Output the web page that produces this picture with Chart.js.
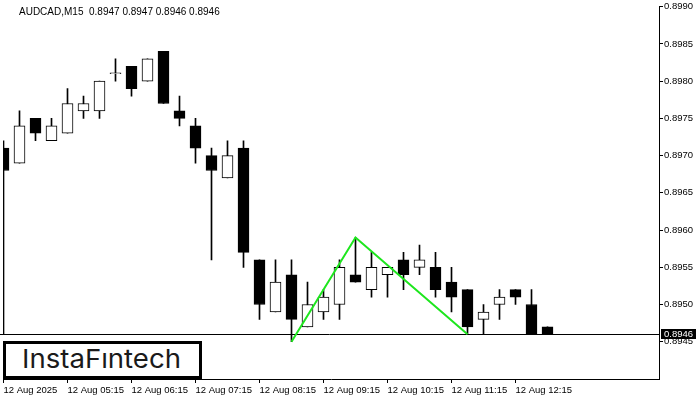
<!DOCTYPE html>
<html>
<head>
<meta charset="utf-8">
<script src="https://cdn.jsdelivr.net/npm/chart.js@4.4.1/dist/chart.umd.min.js"></script>
<style>
  html, body { margin: 0; padding: 0; background: #fff; }
  #wrap { position: relative; width: 700px; height: 400px; overflow: hidden; }
  canvas { display: block; }
  #logo { position: absolute; left: 3px; top: 341px; width: 199px; height: 38px; box-sizing: border-box;
          border: 3px solid #000; background: #fff; overflow: hidden; }
  #logoText { position: absolute; left: 16px; top: 2px; font-family: Inter, "Noto Sans", sans-serif; font-weight: 400;
              font-size: 26px; line-height: 26px; color: #1a1a1a; white-space: pre; transform-origin: 0 0; }
</style>
</head>
<body>
<div id="wrap">
  <canvas id="c" width="700" height="400"></canvas>
  <div id="logo"><span id="logoText">InstaFıntech</span></div>
</div>
<script>
// ---------------- data ----------------
const symbol = 'AUDCAD';
const timeframe = 'M15';
const opens  = [0.8971,0.8969,0.8975,0.8972,0.8973,0.8976,0.8976,0.8981,0.8982,0.8980,0.8984,0.8976,0.8974,0.8970,0.8967,0.8971,0.8956,0.8949,0.8954,0.8947,0.8949,0.8950,0.8954,0.8952,0.8954,0.8956,0.8955,0.8955,0.8953,0.8952,0.8948,0.8950,0.8952,0.8950,0.8947];
const highs  = [0.8972,0.8976,0.8975,0.8975,0.8979,0.8978,0.8980,0.8983,0.8982,0.8983,0.8984,0.8978,0.8975,0.8971,0.8972,0.8972,0.8956,0.8956,0.8956,0.8953,0.8952,0.8956,0.8959,0.8957,0.8955,0.8957,0.8958,0.8957,0.8955,0.8952,0.8950,0.8952,0.8952,0.8952,0.8947];
const lows   = [0.8946,0.8969,0.8972,0.8972,0.8973,0.8975,0.8975,0.8980,0.8978,0.8980,0.8977,0.8974,0.8969,0.8956,0.8967,0.8955,0.8948,0.8949,0.8945,0.8947,0.8948,0.8948,0.8953,0.8951,0.8951,0.8952,0.8954,0.8951,0.8949,0.8946,0.8946,0.8948,0.8950,0.8946,0.8946];
const closes = [0.8968,0.8974,0.8973,0.8974,0.8977,0.8977,0.8980,0.8981,0.8979,0.8983,0.8977,0.8975,0.8971,0.8968,0.8970,0.8957,0.8950,0.8953,0.8948,0.8950,0.8951,0.8955,0.8953,0.8955,0.8955,0.8954,0.8956,0.8952,0.8951,0.8947,0.8949,0.8951,0.8951,0.8946,0.8946];
const xTickIndex  = [0, 4, 8, 12, 16, 20, 24, 28, 32];
const xTickLabels = ['12 Aug 2025','12 Aug 05:15','12 Aug 06:15','12 Aug 07:15','12 Aug 08:15','12 Aug 09:15','12 Aug 10:15','12 Aug 11:15','12 Aug 12:15'];
const yTicks = [0.8945,0.8950,0.8955,0.8960,0.8965,0.8970,0.8975,0.8980,0.8985,0.8990];
const patternIndex = [18, 22, 29];
const patternPrice = [0.8945, 0.8959, 0.8946];
const lastIdx = closes.length - 1;
const lastPrice = closes[lastIdx];

// ---------------- build ----------------
const bodies = opens.map((o, i) => ({ x: i, y: [o, closes[i]] }));
const wicks  = opens.map((o, i) => ({ x: i, y: [lows[i], highs[i]] }));
const bodyFill = opens.map((o, i) => closes[i] >= o ? '#ffffff' : '#000000');
const pattern = patternIndex.map((k, i) => ({ x: k, y: patternPrice[i] }));

const FONT = '"Liberation Sans", Arial, sans-serif';

const overlay = {
  id: 'overlay',
  beforeDatasetsDraw(chart) {
    const { ctx, chartArea: a, scales: { y } } = chart;
    const py = Math.round(y.getPixelForValue(lastPrice)) + 0.5;
    ctx.save();
    ctx.strokeStyle = '#000'; ctx.lineWidth = 1;
    ctx.beginPath(); ctx.moveTo(0, py); ctx.lineTo(a.right, py); ctx.stroke();
    ctx.restore();
  },
  afterDraw(chart) {
    const { ctx, chartArea: a, scales: { y } } = chart;
    const py = Math.round(y.getPixelForValue(lastPrice));
    ctx.save();
    ctx.font = '9.5px ' + FONT;
    ctx.fillStyle = '#000';
    ctx.fillRect(a.right + 2, py - 5, 35, 10);
    ctx.fillStyle = '#fff';
    ctx.textBaseline = 'middle';
    ctx.textAlign = 'left';
    ctx.fillText(lastPrice.toFixed(4), a.right + 5, py + 0.5);
    ctx.fillStyle = '#000';
    ctx.textBaseline = 'alphabetic';
    ctx.font = '10px ' + FONT;
    const t = `${symbol},${timeframe}  ${opens[lastIdx].toFixed(4)} ${highs[lastIdx].toFixed(4)} ${lows[lastIdx].toFixed(4)} ${closes[lastIdx].toFixed(4)}`;
    ctx.fillText(t, 19, 14.5);
    ctx.restore();
  }
};

new Chart(document.getElementById('c'), {
  type: 'bar',
  data: {
    datasets: [
      { type: 'line', data: pattern, borderColor: '#1ee61e', borderWidth: 2, pointRadius: 0, fill: false, tension: 0, order: -1 },
      { type: 'bar', data: bodies, backgroundColor: bodyFill, borderColor: '#000', borderWidth: 1, borderSkipped: false,
        grouped: false, barPercentage: 1, categoryPercentage: 1, maxBarThickness: 11, minBarLength: 1, order: 0 },
      { type: 'bar', data: wicks, backgroundColor: '#000', borderWidth: 0,
        grouped: false, barPercentage: 1, categoryPercentage: 1, maxBarThickness: 1, order: 1 }
    ]
  },
  options: {
    responsive: false,
    animation: false,
    devicePixelRatio: 1,
    layout: { padding: { left: 3, top: 4, right: 0, bottom: 0 } },
    plugins: { legend: { display: false }, tooltip: { enabled: false }, title: { display: false } },
    scales: {
      x: {
        type: 'linear',
        offset: false,
        min: -0.03125, max: 40.96875,
        afterBuildTicks: (s) => { s.ticks = xTickIndex.map(v => ({ value: v })); },
        afterFit: (s) => { s.height = 21; },
        ticks: {
          autoSkip: false, maxRotation: 0, minRotation: 0, align: 'start', padding: 2,
          color: '#000', font: { family: FONT, size: 9.5 },
          callback: (v) => { const i = xTickIndex.indexOf(v); return i >= 0 ? xTickLabels[i] : ''; }
        },
        grid: { display: true, drawOnChartArea: false, drawTicks: true, tickLength: 4, color: '#000', offset: false },
        border: { display: true, color: '#000' }
      },
      y: {
        type: 'linear',
        position: 'right',
        min: 0.8940, max: 0.8990,
        afterBuildTicks: (s) => { s.ticks = yTicks.map(v => ({ value: v })); },
        afterFit: (s) => { s.width = 41; },
        ticks: {
          padding: 1, color: '#000', font: { family: FONT, size: 9.5 },
          callback: (v) => v.toFixed(4)
        },
        grid: { display: true, drawOnChartArea: false, drawTicks: true, tickLength: 4, color: '#000' },
        border: { display: true, color: '#000' }
      }
    }
  },
  plugins: [overlay]
});

// fit logo text width
const lt = document.getElementById('logoText');
const w = lt.getBoundingClientRect().width;
lt.style.transform = 'scaleX(' + (159 / w) + ')';
</script>
</body>
</html>
